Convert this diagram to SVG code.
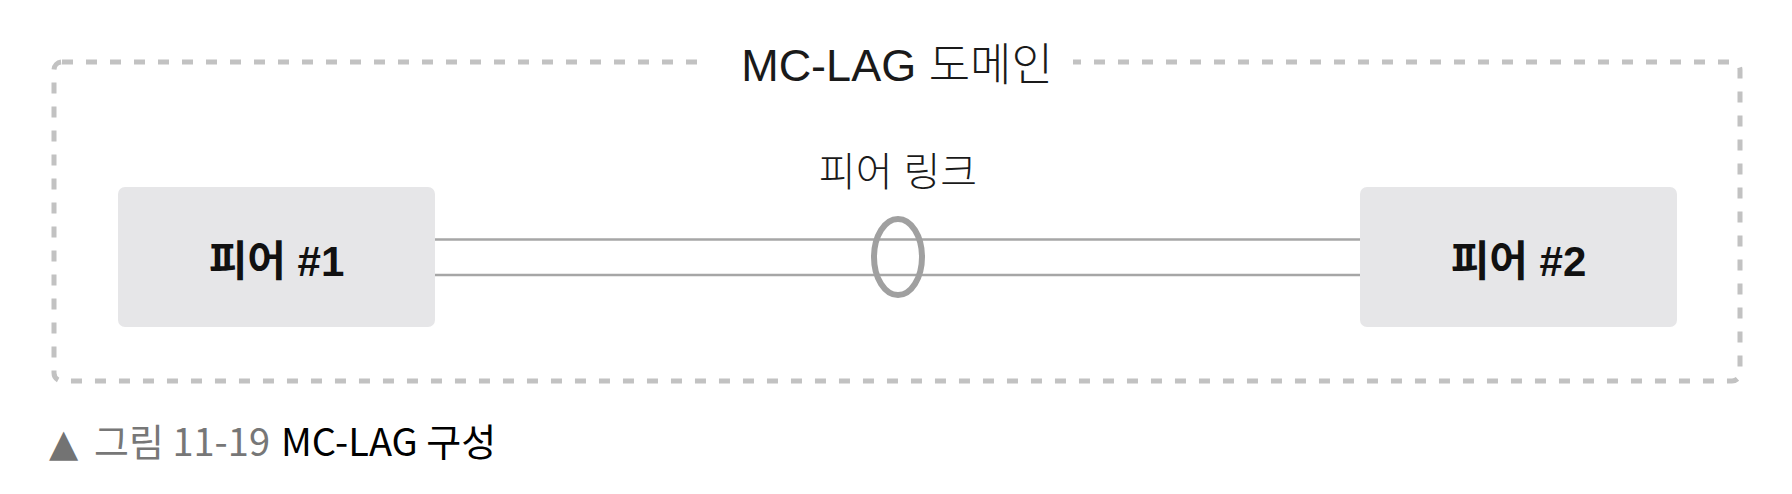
<svg xmlns="http://www.w3.org/2000/svg" width="1792" height="494" viewBox="0 0 1792 494">
<style>
.domain{fill:none;stroke:#c2c2c2;stroke-width:5;stroke-dasharray:11 13}
.peer{fill:#e6e6e8}
.link{stroke:#a6a6a6;stroke-width:2.5;fill:none}
.lag{fill:none;stroke:#a0a0a0;stroke-width:6}
.lbl{font-family:"Liberation Sans","Noto Sans CJK KR",sans-serif;fill:#1a1a1a}
.peertxt{font-family:"Liberation Sans","Noto Sans CJK KR",sans-serif;font-weight:bold;font-size:42px;fill:#111;text-anchor:middle}
.cap{font-family:"Noto Sans CJK KR",sans-serif;font-size:38px}
</style>
<rect width="1792" height="494" fill="#ffffff"/>
<g id="domain">
<rect class="domain" x="54" y="62" width="1686" height="319" rx="8"/>
<rect x="710" y="40" width="363" height="50" fill="#ffffff"/>
<text class="lbl" x="897" y="81" font-size="45" text-anchor="middle" font-weight="300">MC-LAG 도메인</text>
</g>
<g id="connectors">
<line class="link" x1="435" y1="239.5" x2="1360" y2="239.5"/>
<line class="link" x1="435" y1="275" x2="1360" y2="275"/>
<ellipse class="lag" cx="898" cy="257" rx="24" ry="38"/>
<text class="lbl" x="898" y="186" font-size="40" text-anchor="middle" font-weight="300">피어 링크</text>
</g>
<g id="peer1">
<rect class="peer" x="118" y="187" width="317" height="140" rx="7"/>
<text class="peertxt" x="276.5" y="276">피어 #1</text>
</g>
<g id="peer2">
<rect class="peer" x="1360" y="187" width="317" height="140" rx="7"/>
<text class="peertxt" x="1518.5" y="276">피어 #2</text>
</g>
<g id="caption">
<text x="49" y="456" font-family="DejaVu Sans,sans-serif" font-size="38" fill="#737373">▲</text>
<text class="cap" x="94" y="456" fill="#777777">그림 11-19</text>
<text class="cap" x="281" y="456" font-size="41" fill="#000000">MC-LAG 구성</text>
</g>
</svg>
